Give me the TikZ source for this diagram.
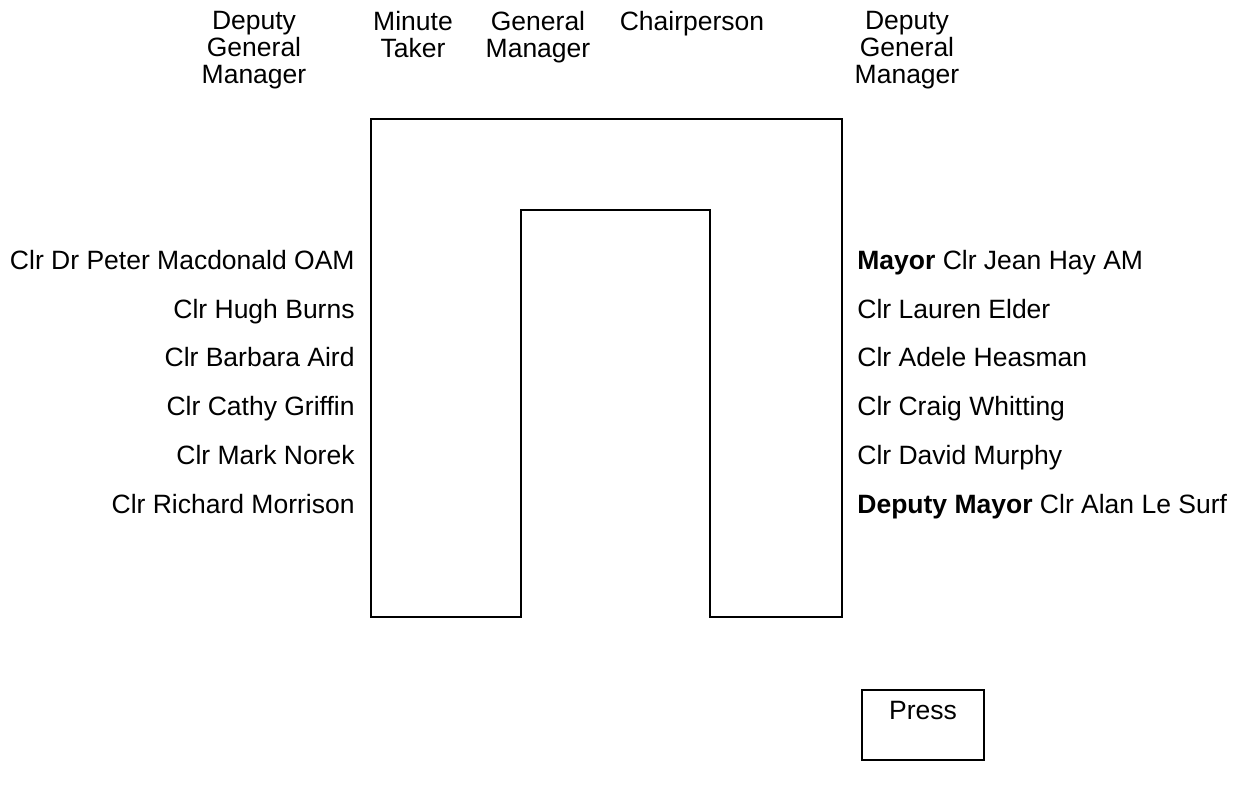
\documentclass[tikz,border=0pt]{standalone}
\usepackage{fontspec}
\setmainfont{Liberation Sans}
\usepackage{tikz}
\usetikzlibrary{positioning}

\begin{document}
\begin{tikzpicture}[
    x=0.5pt, y=-0.5pt,
    wall/.style={draw, line width=1pt},
    seat/.style={font=\fontsize{13.25}{13.5}\selectfont, inner sep=0pt},
    staff/.style={seat, align=center, anchor=north},
    councillor/.style={seat, anchor=base east},
    councillorR/.style={seat, anchor=base west}
]
    \useasboundingbox (0,0) rectangle (1239,787);

    % Table
    \draw[wall] (371,617) -- (371,119) -- (842,119) -- (842,617) -- (710,617)
        -- (710,210) -- (521,210) -- (521,617) -- cycle;

    % Head of the table
    \node[staff] (dgmleft) at (254,11) {Deputy\\General\\Manager};
    \node[staff] (minutes) at (413,11) {Minute\\Taker};
    \node[staff] (gm) at (538,11) {General\\Manager};
    \node[staff] (chair) at (692,11) {Chairperson};
    \node[staff] (dgmright) at (907,11) {Deputy\\General\\Manager};

    % Left side
    \node[councillor] (macdonald) at (355,269) {Clr Dr Peter Macdonald OAM};
    \node[councillor] (burns) at (355,318) {Clr Hugh Burns};
    \node[councillor] (aird) at (355,366) {Clr Barbara Aird};
    \node[councillor] (griffin) at (355,415) {Clr Cathy Griffin};
    \node[councillor] (norek) at (355,464) {Clr Mark Norek};
    \node[councillor] (morrison) at (355,513) {Clr Richard Morrison};

    % Right side
    \node[councillorR] (hay) at (857,269) {\textbf{Mayor} Clr Jean Hay AM};
    \node[councillorR] (elder) at (857,318) {Clr Lauren Elder};
    \node[councillorR] (heasman) at (857,366) {Clr Adele Heasman};
    \node[councillorR] (whitting) at (857,415) {Clr Craig Whitting};
    \node[councillorR] (murphy) at (857,464) {Clr David Murphy};
    \node[councillorR] (lesurf) at (857,513) {\textbf{Deputy Mayor} Clr Alan Le Surf};

    % Press
    \node[wall, minimum width=61pt, minimum height=35pt, inner sep=0pt] (press) at (923,725) {};
    \node[seat, anchor=north] (presstext) at ([yshift=-6pt]press.north) {Press};
\end{tikzpicture}
\end{document}
